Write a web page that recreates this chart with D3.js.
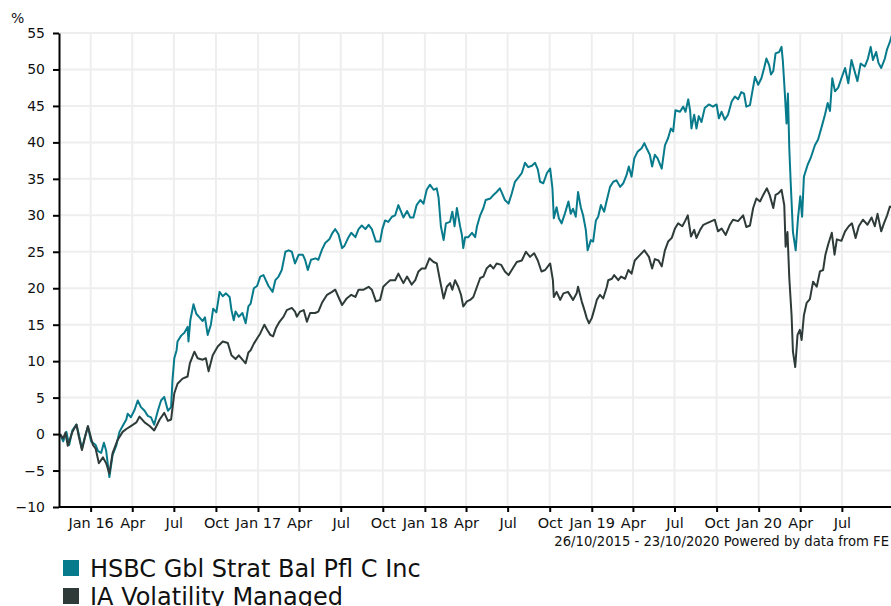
<!DOCTYPE html>
<html>
<head>
<meta charset="utf-8">
<script src="https://cdn.jsdelivr.net/npm/d3@7"></script>
<style>
  html, body { margin: 0; padding: 0; background: #fff; }
  svg { display: block; font-family: "DejaVu Sans", Verdana, sans-serif; }
</style>
</head>
<body>
<svg id="chart" width="891" height="606"></svg>
<script>
// ---------------- DATA ----------------
const seriesNames = ["HSBC Gbl Strat Bal Pfl C Inc", "IA Volatility Managed"];
const seriesColors = ["#077b8c", "#2e3b39"];
const periodStart = "2015-10-26";
const periodEnd = "2020-10-23";
const yTickValues = [-10, -5, 0, 5, 10, 15, 20, 25, 30, 35, 40, 45, 50, 55];
const xTickDates = ["2016-01-01","2016-04-01","2016-07-01","2016-10-01",
  "2017-01-01","2017-04-01","2017-07-01","2017-10-01",
  "2018-01-01","2018-04-01","2018-07-01","2018-10-01",
  "2019-01-01","2019-04-01","2019-07-01","2019-10-01",
  "2020-01-01","2020-04-01","2020-07-01"];
const caption = "26/10/2015 - 23/10/2020 Powered by data from FE";

const hsbcDates = ["2015-10-26","2015-11-02","2015-11-09","2015-11-15","2015-11-22","2015-12-01","2015-12-06","2015-12-13","2015-12-19","2015-12-26",
"2016-01-02","2016-01-12","2016-01-17","2016-01-24","2016-01-30","2016-02-04","2016-02-11","2016-02-18","2016-02-26","2016-03-04",
"2016-03-11","2016-03-19","2016-03-22","2016-03-29","2016-04-06","2016-04-13","2016-04-20","2016-04-28","2016-05-05","2016-05-12",
"2016-05-19","2016-05-27","2016-06-03","2016-06-10","2016-06-18","2016-06-25","2016-06-28","2016-07-02","2016-07-07","2016-07-09",
"2016-07-17","2016-07-24","2016-07-31","2016-08-02","2016-08-06","2016-08-13","2016-08-19","2016-08-26","2016-09-02","2016-09-07",
"2016-09-13","2016-09-20","2016-09-25","2016-10-02","2016-10-09","2016-10-16","2016-10-23","2016-10-31","2016-11-04","2016-11-09",
"2016-11-13","2016-11-20","2016-11-28","2016-12-05","2016-12-11","2016-12-16","2016-12-23","2016-12-30","2017-01-06","2017-01-13",
"2017-01-18","2017-01-24","2017-02-02","2017-02-08","2017-02-15","2017-02-22","2017-03-02","2017-03-09","2017-03-16","2017-03-23",
"2017-03-31","2017-04-09","2017-04-14","2017-04-20","2017-04-27","2017-05-07","2017-05-13","2017-05-21","2017-05-28","2017-06-06",
"2017-06-13","2017-06-19","2017-06-26","2017-07-04","2017-07-09","2017-07-18","2017-07-24","2017-08-02","2017-08-09","2017-08-16",
"2017-08-24","2017-08-31","2017-09-07","2017-09-16","2017-09-25","2017-09-30","2017-10-06","2017-10-13","2017-10-21","2017-10-28",
"2017-11-04","2017-11-15","2017-11-23","2017-11-30","2017-12-07","2017-12-14","2017-12-22","2017-12-29","2018-01-05","2018-01-12",
"2018-01-20","2018-01-27","2018-01-31","2018-02-05","2018-02-11","2018-02-16","2018-02-25","2018-03-02","2018-03-07","2018-03-12",
"2018-03-19","2018-03-23","2018-03-26","2018-03-30","2018-04-06","2018-04-14","2018-04-21","2018-04-25","2018-05-02","2018-05-09",
"2018-05-14","2018-05-24","2018-05-31","2018-06-07","2018-06-14","2018-06-19","2018-06-25","2018-07-03","2018-07-10","2018-07-17",
"2018-07-26","2018-08-01","2018-08-08","2018-08-15","2018-08-23","2018-08-30","2018-09-05","2018-09-10","2018-09-17","2018-09-25",
"2018-10-02","2018-10-07","2018-10-10","2018-10-16","2018-10-21","2018-10-27","2018-11-03","2018-11-11","2018-11-16","2018-11-21",
"2018-11-27","2018-12-02","2018-12-08","2018-12-13","2018-12-19","2018-12-23","2018-12-30","2019-01-04","2019-01-10","2019-01-15",
"2019-01-21","2019-01-28","2019-02-03","2019-02-10","2019-02-17","2019-02-24","2019-03-04","2019-03-11","2019-03-18","2019-03-23",
"2019-03-29","2019-04-04","2019-04-11","2019-04-20","2019-04-26","2019-05-01","2019-05-08","2019-05-13","2019-05-19","2019-05-25",
"2019-06-03","2019-06-10","2019-06-17","2019-06-23","2019-06-28","2019-07-03","2019-07-13","2019-07-20","2019-07-25","2019-07-31",
"2019-08-04","2019-08-07","2019-08-13","2019-08-18","2019-08-23","2019-08-29","2019-09-05","2019-09-14","2019-09-23","2019-10-01",
"2019-10-06","2019-10-12","2019-10-19","2019-10-26","2019-11-03","2019-11-10","2019-11-17","2019-11-24","2019-11-30","2019-12-05",
"2019-12-13","2019-12-18","2019-12-24","2019-12-31","2020-01-07","2020-01-13","2020-01-18","2020-01-24","2020-01-28","2020-02-02",
"2020-02-07","2020-02-15","2020-02-20","2020-02-23","2020-02-27","2020-03-02","2020-03-05","2020-03-08","2020-03-11","2020-03-16",
"2020-03-22","2020-03-27","2020-04-01","2020-04-05","2020-04-09","2020-04-17","2020-04-24","2020-05-03","2020-05-10","2020-05-19",
"2020-05-25","2020-05-31","2020-06-05","2020-06-10","2020-06-16","2020-06-23","2020-06-30","2020-07-08","2020-07-15","2020-07-22",
"2020-07-30","2020-08-04","2020-08-11","2020-08-20","2020-08-27","2020-09-02","2020-09-07","2020-09-14","2020-09-19","2020-09-25",
"2020-10-03","2020-10-08","2020-10-13","2020-10-20","2020-10-23"];
const hsbcValues = [0.0,-1.0,0.3,-1.5,0.5,1.3,0.0,-2.0,-0.5,1.0,
-1.0,-1.5,-2.3,-2.6,-1.2,-2.3,-5.9,-2.9,-1.6,0.3,
1.1,2.0,2.8,2.3,3.3,4.6,3.7,3.2,2.5,2.3,
1.3,3.2,4.6,5.1,3.2,3.7,7.4,10.4,11.5,12.7,
13.5,13.9,14.7,12.7,15.6,17.8,16.5,16.0,15.5,16.0,
13.6,15.0,17.2,16.7,19.5,18.9,19.3,18.8,17.0,15.6,
16.8,16.1,16.6,15.2,17.5,17.9,20.0,20.3,21.6,21.8,
21.1,20.3,19.5,21.1,21.6,22.5,25.0,25.2,25.0,23.4,
24.6,24.6,23.9,22.5,23.9,24.1,23.9,25.3,26.2,26.7,
27.6,28.1,27.4,25.5,25.8,27.0,27.6,27.0,28.1,28.6,
28.1,28.7,28.1,26.4,26.4,28.1,29.3,29.1,29.8,30.0,
31.4,29.7,30.6,29.7,29.7,31.4,32.1,31.6,33.5,34.2,
33.5,33.7,32.4,28.5,26.6,28.9,29.1,30.5,28.5,31.0,
28.5,27.3,25.5,27.0,27.0,27.6,27.0,28.5,30.0,31.0,
32.1,32.3,32.8,33.2,33.7,33.0,32.1,31.6,33.0,34.6,
35.3,35.8,37.2,36.6,36.8,37.2,36.3,34.6,34.4,35.8,
36.4,33.7,29.6,31.1,29.6,28.9,30.2,31.9,30.2,30.9,
29.8,33.2,31.1,30.0,28.0,25.2,26.6,26.4,29.3,29.8,
31.4,30.5,32.1,33.9,34.6,34.8,33.9,34.4,35.5,36.7,
35.3,37.8,38.7,39.2,39.9,39.2,38.3,36.7,38.3,37.8,
36.4,39.6,40.6,41.9,41.5,44.4,44.2,44.9,44.2,45.9,
44.4,41.9,43.8,41.9,43.6,42.8,44.7,45.2,44.9,45.2,
43.3,44.2,43.1,43.8,45.6,46.3,45.9,46.9,46.7,44.9,
45.1,46.9,49.0,47.9,48.8,50.2,51.5,50.6,49.3,49.8,
52.2,52.4,53.1,51.1,47.0,42.6,46.7,39.2,34.6,27.7,
25.2,29.6,32.6,29.8,35.3,36.9,37.9,39.6,40.4,42.4,
43.8,45.4,44.3,48.8,47.0,47.5,48.8,50.2,48.1,51.3,
49.5,48.4,50.8,50.4,51.5,53.1,51.3,52.4,50.9,50.2,
51.5,52.8,53.6,55.0,55.2];

const iaDates = ["2015-10-26","2015-11-02","2015-11-07","2015-11-12","2015-11-22","2015-12-01","2015-12-06","2015-12-13","2015-12-19","2015-12-26",
"2016-01-06","2016-01-12","2016-01-19","2016-01-28","2016-02-04","2016-02-11","2016-02-18","2016-02-29","2016-03-11","2016-03-19",
"2016-03-29","2016-04-10","2016-04-17","2016-04-28","2016-05-09","2016-05-19","2016-05-31","2016-06-10","2016-06-18","2016-06-25",
"2016-07-02","2016-07-09","2016-07-20","2016-07-31","2016-08-05","2016-08-15","2016-08-22","2016-09-02","2016-09-09","2016-09-15",
"2016-09-24","2016-10-05","2016-10-16","2016-10-27","2016-11-04","2016-11-13","2016-11-20","2016-11-28","2016-12-05","2016-12-11",
"2016-12-16","2016-12-23","2016-12-30","2017-01-06","2017-01-15","2017-01-21","2017-01-28","2017-02-03","2017-02-09","2017-02-17",
"2017-02-26","2017-03-05","2017-03-16","2017-03-23","2017-03-27","2017-04-03","2017-04-11","2017-04-18","2017-04-25","2017-05-06",
"2017-05-13","2017-05-21","2017-06-01","2017-06-12","2017-06-19","2017-06-26","2017-07-04","2017-07-14","2017-07-24","2017-08-02",
"2017-08-09","2017-08-20","2017-08-31","2017-09-07","2017-09-16","2017-09-25","2017-10-02","2017-10-10","2017-10-17","2017-10-28",
"2017-11-04","2017-11-15","2017-11-23","2017-12-03","2017-12-11","2017-12-18","2017-12-25","2018-01-02","2018-01-11","2018-01-20",
"2018-01-27","2018-02-03","2018-02-11","2018-02-18","2018-02-25","2018-03-02","2018-03-08","2018-03-15","2018-03-21","2018-03-26",
"2018-04-03","2018-04-10","2018-04-17","2018-04-25","2018-05-02","2018-05-09","2018-05-16","2018-05-24","2018-05-31","2018-06-07",
"2018-06-17","2018-06-25","2018-07-03","2018-07-10","2018-07-21","2018-08-01","2018-08-10","2018-08-19","2018-08-28","2018-09-05",
"2018-09-13","2018-09-21","2018-10-02","2018-10-08","2018-10-10","2018-10-16","2018-10-24","2018-10-31","2018-11-10","2018-11-21",
"2018-11-29","2018-12-02","2018-12-10","2018-12-16","2018-12-21","2018-12-26","2019-01-01","2019-01-07","2019-01-12","2019-01-19",
"2019-01-26","2019-02-03","2019-02-06","2019-02-14","2019-02-19","2019-02-28","2019-03-06","2019-03-15","2019-03-22","2019-03-29",
"2019-04-05","2019-04-14","2019-04-26","2019-05-06","2019-05-13","2019-05-19","2019-05-27","2019-06-03","2019-06-10","2019-06-17",
"2019-06-25","2019-07-02","2019-07-09","2019-07-18","2019-07-24","2019-07-30","2019-08-06","2019-08-13","2019-08-18","2019-08-26",
"2019-09-02","2019-09-09","2019-09-20","2019-09-27","2019-10-04","2019-10-12","2019-10-21","2019-10-30","2019-11-06","2019-11-17",
"2019-11-28","2019-12-05","2019-12-13","2019-12-20","2019-12-27","2020-01-04","2020-01-11","2020-01-19","2020-01-25","2020-02-02",
"2020-02-07","2020-02-13","2020-02-20","2020-02-26","2020-02-29","2020-03-04","2020-03-08","2020-03-13","2020-03-16","2020-03-21",
"2020-03-26","2020-03-31","2020-04-04","2020-04-09","2020-04-15","2020-04-22","2020-04-29","2020-05-07","2020-05-14","2020-05-21",
"2020-05-26","2020-06-01","2020-06-09","2020-06-15","2020-06-20","2020-06-30","2020-07-08","2020-07-16","2020-07-23","2020-07-31",
"2020-08-07","2020-08-16","2020-08-26","2020-09-04","2020-09-11","2020-09-17","2020-09-25","2020-10-01","2020-10-08","2020-10-14",
"2020-10-23"];
const iaValues = [0.0,-0.6,0.2,-1.6,0.3,1.3,-0.3,-2.2,-0.6,1.1,
-1.5,-2.0,-4.0,-3.2,-4.0,-5.4,-2.6,-0.8,0.3,0.7,
1.1,1.6,2.4,1.6,1.1,0.5,2.0,2.9,1.8,2.0,
5.6,6.9,7.6,7.9,9.7,11.3,10.4,10.2,10.4,8.6,
10.8,12.0,12.7,12.5,10.8,10.3,10.8,10.2,9.7,11.2,
11.5,12.4,13.1,13.8,15.0,14.3,13.6,13.4,14.5,15.4,
16.1,17.0,17.3,16.8,16.1,16.8,17.0,15.4,16.6,16.6,
16.8,18.0,19.1,19.5,19.8,18.8,17.7,18.6,19.1,18.8,
19.8,19.8,20.2,19.8,18.2,18.4,20.2,20.7,21.1,21.1,
22.0,20.7,21.6,20.5,21.1,22.3,22.7,22.7,24.1,23.6,
23.4,21.1,18.6,20.2,20.7,19.8,21.1,20.2,19.1,17.5,
18.2,18.4,18.8,20.2,21.4,21.6,22.7,23.2,22.7,23.4,
23.2,22.3,21.8,22.5,23.6,23.8,25.0,24.3,24.8,23.8,
22.3,22.5,23.4,21.1,18.8,19.5,18.4,19.3,19.5,18.4,
19.3,20.2,18.2,17.0,15.9,15.2,15.9,17.2,18.4,19.1,
18.6,20.2,21.1,21.3,21.8,21.1,21.6,21.3,22.5,22.0,
23.8,24.4,25.2,24.3,22.7,24.0,23.8,23.0,25.2,26.4,
26.9,28.2,28.9,28.5,29.2,30.0,27.1,28.0,26.9,28.0,
28.7,28.9,29.2,29.4,27.8,28.2,27.3,28.7,29.4,29.2,
30.0,28.4,28.6,31.0,32.3,31.9,32.8,33.7,32.8,31.0,
32.8,33.0,33.5,31.4,25.7,27.7,21.4,16.3,11.3,9.2,
13.6,14.3,12.9,16.3,18.0,18.5,20.9,20.2,22.3,22.5,
24.6,26.0,27.6,24.6,26.7,26.5,27.8,28.5,28.9,26.9,
28.5,29.4,28.7,29.7,28.5,30.2,27.8,28.9,30.0,31.2,
31.0];

// ---------------- CHART ----------------
(function () {
const parse = d3.timeParse("%Y-%m-%d");
const svg = d3.select("#chart");
const padL = 59, padR = 891, padT = 33, padB = 507;

const x = d3.scaleTime().domain([parse(periodStart), parse(periodEnd)]).range([60, 894]);
const y = d3.scaleLinear().domain([-10, 55]).range([padB, padT]);

const ticks = xTickDates.map(parse);
const fmt = d => d.getMonth() === 0 ? d3.timeFormat("%b %y")(d) : d3.timeFormat("%b")(d);

// grid
const grid = svg.append("g");
grid.selectAll("line.v").data(ticks).join("line").attr("class", "v")
  .attr("x1", d => x(d)).attr("x2", d => x(d))
  .attr("y1", padT).attr("y2", padB)
  .attr("stroke", "#eeeeee").attr("stroke-width", 2);
grid.selectAll("line.h").data(yTickValues).join("line").attr("class", "h")
  .attr("x1", padL).attr("x2", padR)
  .attr("y1", d => y(d)).attr("y2", d => y(d))
  .attr("stroke", "#eeeeee").attr("stroke-width", 2);

// lines
const plot = svg.append("g");
const seriesData = [
  hsbcDates.map((d, i) => ({date: parse(d), value: hsbcValues[i]})),
  iaDates.map((d, i) => ({date: parse(d), value: iaValues[i]}))
];
const line = d3.line().x(d => x(d.date)).y(d => y(d.value));
seriesData.forEach((s, i) => {
  plot.append("path").datum(s)
    .attr("d", line)
    .attr("fill", "none")
    .attr("stroke", seriesColors[i])
    .attr("stroke-width", 2)
    .attr("stroke-linejoin", "round");
});

// axes
const yAxis = svg.append("g").attr("transform", `translate(${padL},0)`)
  .call(d3.axisLeft(y).tickValues(yTickValues).tickSize(6).tickPadding(8).tickSizeOuter(0));
yAxis.select(".domain").attr("stroke", "#000").attr("stroke-width", 2);
yAxis.selectAll(".tick line").attr("stroke", "#000").attr("stroke-width", 2);
yAxis.selectAll(".tick text").attr("font-size", 14).attr("fill", "#111")
  .attr("font-family", "DejaVu Sans, Verdana, sans-serif");

const xAxis = svg.append("g").attr("transform", `translate(0,${padB})`)
  .call(d3.axisBottom(x).tickValues(ticks).tickFormat(fmt).tickSize(5).tickPadding(6).tickSizeOuter(0));
xAxis.select(".domain").attr("d", `M${padL},0H${padR}`).attr("stroke", "#000").attr("stroke-width", 2);
xAxis.selectAll(".tick line").attr("stroke", "#000").attr("stroke-width", 2);
xAxis.selectAll(".tick text").attr("font-size", 14.5).attr("fill", "#111")
  .attr("font-family", "DejaVu Sans, Verdana, sans-serif");

// % label
svg.append("text").attr("x", 11).attr("y", 23).attr("font-size", 14).attr("fill", "#111").text("%");

// caption
svg.append("text").attr("x", 889).attr("y", 546).attr("text-anchor", "end")
  .attr("font-size", 13.2).attr("fill", "#111").text(caption);

// legend
const lg = svg.append("g");
seriesNames.forEach((name, i) => {
  const yy = 560 + i * 28;
  lg.append("rect").attr("x", 63).attr("y", yy).attr("width", 16).attr("height", 16).attr("fill", seriesColors[i]);
  lg.append("text").attr("x", 90).attr("y", yy + 17).attr("font-size", 24).attr("fill", "#111").text(name);
});
})();
</script>
</body>
</html>
